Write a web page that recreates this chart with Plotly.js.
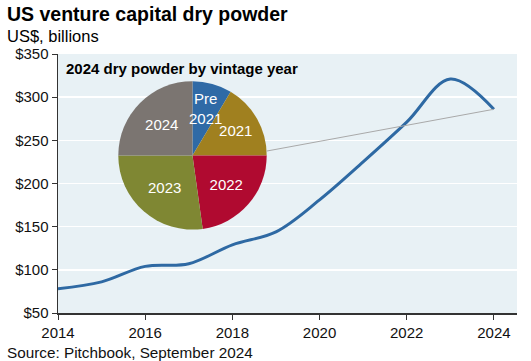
<!DOCTYPE html>
<html><head><meta charset="utf-8">
<script src="https://cdn.plot.ly/plotly-3.0.1.min.js"></script>
<style>html,body{margin:0;padding:0;background:#fff}</style>
</head><body>
<div id="chart" style="width:531px;height:361px"></div>
<script>
const years = [2014, 2015, 2016, 2017, 2018, 2019, 2020, 2021, 2022, 2023, 2024];
const dryPowder = [78, 86, 104, 107, 129, 144, 181, 225, 271, 321, 286];
const vintageLabels = ['Pre<br>2021', '2021', '2022', '2023', '2024'];
const vintageShares = [8.6, 16.4, 22.8, 27.2, 25.0];
const vintageColors = ['#2f6aa6', '#a0801f', '#b00a30', '#7f8733', '#7b7571'];
const yTicks = [50, 100, 150, 200, 250, 300, 350];
const xTicks = [2014, 2016, 2018, 2020, 2022, 2024];

const F = 'Liberation Sans, Arial, sans-serif';
const last = years.length - 1;

// plot area geometry (px)
const W = 531, H = 361, ML = 58, MR = 14, MT = 54, MB = 48;
const PW = W - ML - MR, PH = H - MT - MB;
const pieDom = {x:[0.128, 0.458], y:[0.322, 0.895]};

// first slice label drawn as annotation so it is not shrunk to fit
const total = vintageShares.reduce((a,b)=>a+b, 0);
const midAng = (vintageShares[0] / total) * Math.PI;
const rPx = Math.min((pieDom.x[1]-pieDom.x[0])*PW, (pieDom.y[1]-pieDom.y[0])*PH) / 2;
const cx = (pieDom.x[0]+pieDom.x[1])/2, cy = (pieDom.y[0]+pieDom.y[1])/2;
const lr = 0.66 * rPx;
const preX = cx + lr*Math.sin(midAng)/PW;
const preY = cy + lr*Math.cos(midAng)/PH;

const sliceText = vintageLabels.map((l,i)=> i===0 ? '' : l);

const data = [
  {type:'scatter', mode:'lines', x:years, y:dryPowder,
   line:{color:'#2e69a3', width:3, shape:'spline', smoothing:1.0},
   hoverinfo:'skip', showlegend:false},
  {type:'pie', labels:vintageLabels, values:vintageShares, text:sliceText, sort:false,
   direction:'clockwise', rotation:0,
   marker:{colors:vintageColors, line:{width:0}},
   textinfo:'text', textposition:'inside', insidetextorientation:'horizontal',
   textfont:{family:F, size:15, color:'#ffffff'},
   domain:pieDom,
   showlegend:false, hoverinfo:'skip'}
];

const layout = {
  width:W, height:H,
  margin:{l:ML, r:MR, t:MT, b:MB},
  paper_bgcolor:'#ffffff', plot_bgcolor:'#e8f1f5',
  font:{family:F, size:15, color:'#111'},
  xaxis:{range:[2014, 2024.53], tickvals:xTicks, ticktext:xTicks.map(String),
    showgrid:false, zeroline:false, showline:true, linecolor:'#333', linewidth:1.5,
    ticks:'outside', ticklen:5, tickcolor:'#333', tickfont:{family:F, size:15, color:'#111'}},
  yaxis:{range:[50, 350], tickvals:yTicks, ticktext:yTicks.map(v=>'$'+v),
    showgrid:true, gridcolor:'#ffffff', gridwidth:1.5, zeroline:false,
    showline:true, linecolor:'#333', linewidth:1.5,
    ticks:'outside', ticklen:5, tickcolor:'#333', tickfont:{family:F, size:15, color:'#111'}},
  shapes:[
    {type:'line', xref:'x', yref:'y', x0:2018.78, y0:237.5, x1:years[last], y1:dryPowder[last],
     line:{color:'#a9a9a9', width:1}, layer:'above'}
  ],
  annotations:[
    {text:vintageLabels[0], xref:'paper', yref:'paper', x:preX, y:preY,
     xanchor:'center', yanchor:'middle', showarrow:false,
     font:{family:F, size:15, color:'#ffffff'}},
    {text:'<b>US venture capital dry powder</b>', xref:'paper', yref:'paper',
     x:-(ML-5)/PW, y:1+(MT-14)/PH, xanchor:'left', yanchor:'middle', showarrow:false,
     font:{family:F, size:19.5, color:'#000'}},
    {text:'US$, billions', xref:'paper', yref:'paper',
     x:-(ML-5)/PW, y:1+(MT-35.5)/PH, xanchor:'left', yanchor:'middle', showarrow:false,
     font:{family:F, size:16.5, color:'#000'}},
    {text:'<b>2024 dry powder by vintage year</b>', xref:'paper', yref:'paper',
     x:(64-ML)/PW, y:1-(68-MT)/PH, xanchor:'left', yanchor:'middle', showarrow:false,
     font:{family:F, size:15, color:'#000'}},
    {text:'Source: Pitchbook, September 2024', xref:'paper', yref:'paper',
     x:-(ML-5)/PW, y:-(352-(H-MB))/PH, xanchor:'left', yanchor:'middle', showarrow:false,
     font:{family:F, size:15.3, color:'#111'}}
  ]
};

Plotly.newPlot('chart', data, layout, {displayModeBar:false, staticPlot:true});
</script>
</body></html>
